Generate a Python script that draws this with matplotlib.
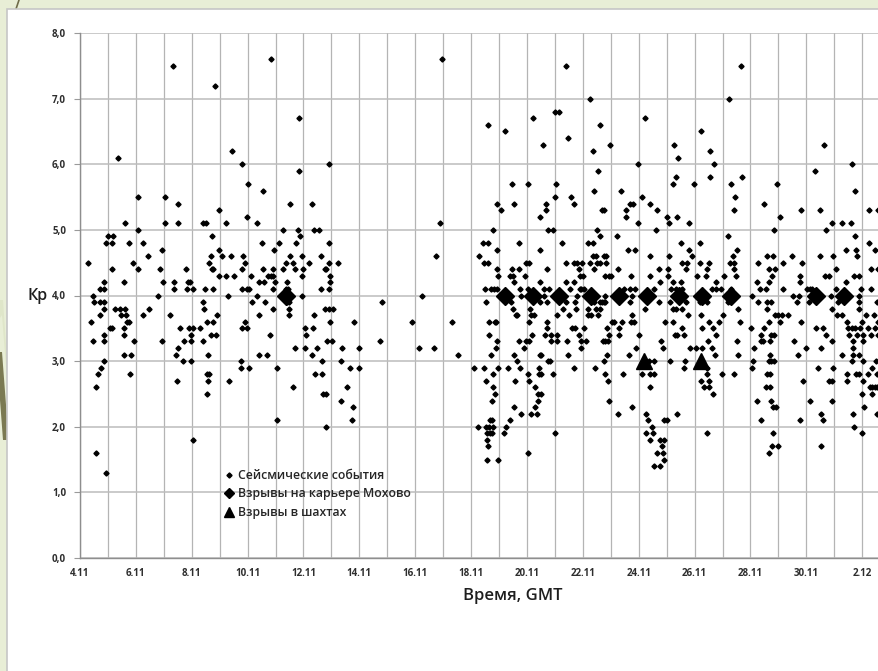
import matplotlib.pyplot as plt
from matplotlib.lines import Line2D
from matplotlib.patches import Rectangle, Polygon

plt.rcParams['font.family'] = ['Open Sans', 'DejaVu Sans']

# seismic events 4.11 - 17.11 (day of November, Kp)
west_day = [4.27, 4.41, 4.47, 4.48, 4.49, 4.56, 4.66, 4.70, 4.72, 4.72, 4.76, 4.87, 4.87, 4.87, 4.87, 4.87,
            4.87, 4.87, 4.93, 5.00, 5.07, 5.13, 5.13, 5.16, 5.19, 5.25, 5.43, 5.46, 5.61, 5.62, 5.58, 5.65,
            5.58, 5.59, 5.58, 5.67, 5.74, 5.77, 5.79, 5.81, 5.91, 5.93, 6.06, 6.06, 6.27, 6.27, 6.42, 6.46,
            6.79, 6.86, 6.94, 6.92, 6.98, 7.03, 7.22, 7.38, 7.38, 7.46, 7.44, 7.51, 7.51, 7.51, 7.59, 7.70,
            7.72, 7.81, 7.82, 7.85, 7.94, 7.91, 7.96, 7.96, 7.96, 8.03, 8.03, 8.03, 8.30, 8.39, 8.40, 8.45,
            8.42, 8.51, 8.49, 8.53, 8.53, 8.58, 8.59, 8.53, 8.61, 8.61, 8.70, 8.74, 8.74, 8.77, 8.69, 8.77,
            8.77, 8.87, 8.89, 8.99, 8.99, 8.99, 9.24, 9.08, 9.23, 9.31, 9.33, 9.39, 9.53, 9.75, 9.75, 9.79,
            9.79, 9.80, 9.82, 9.91, 9.92, 9.97, 9.99, 9.99, 10.06, 10.04, 10.13, 10.15, 10.35, 10.35, 10.40,
            10.42, 10.42, 10.50, 10.56, 10.58, 10.62, 10.68, 10.79, 10.74, 10.83, 10.90, 10.92, 10.92, 10.92,
            10.95, 10.98, 11.04, 11.04, 11.14, 11.26, 11.28, 11.37, 11.40, 11.45, 11.47, 11.47, 11.47, 11.52,
            11.52, 11.61, 11.61, 11.68, 11.70, 11.72, 11.82,
            5.36, 6.06, 7.05, 7.33, 8.83, 9.44, 9.80, 10.00, 10.54, 10.84, 11.83, 11.83,
            4.56, 4.94, 11.30, 11.44, 11.40, 11.36,
            16.95, 12.90, 12.31, 16.90, 12.37, 12.56, 11.89, 12.90, 11.96, 12.61, 16.76, 12.21, 12.93, 13.24,
            11.97, 12.76, 12.80, 11.96, 12.95, 12.95, 12.63, 12.93, 11.96, 16.26, 14.81, 12.78, 12.93, 13.07,
            12.36, 12.94, 13.82, 15.89, 17.31, 12.07, 12.33, 12.09, 12.83, 13.02, 14.75, 12.07, 12.50, 13.39,
            13.97, 16.14, 16.66, 12.31, 17.52, 12.67, 13.33, 12.40, 12.67, 13.68, 13.97, 13.55, 12.71, 12.80,
            13.36, 13.78, 13.73, 12.80]
west_kp = [4.5, 3.6, 3.3, 4.0, 3.9, 2.6, 2.8, 3.7, 4.1, 3.9, 2.9, 3.0, 3.3, 3.4, 3.8, 3.9,
           4.1, 4.2, 4.8, 4.9, 3.5, 3.5, 4.8, 4.4, 4.9, 3.8, 3.8, 3.7, 3.8, 5.1, 4.2, 3.7,
           3.4, 3.5, 3.1, 3.6, 4.8, 3.6, 2.8, 3.1, 4.5, 3.3, 5.0, 4.4, 4.8, 3.7, 4.6, 3.8,
           4.0, 4.4, 4.7, 3.3, 4.2, 5.1, 3.7, 4.2, 4.1, 2.7, 3.1, 5.4, 5.1, 3.2, 3.5, 3.0,
           3.3, 4.4, 4.1, 4.2, 4.2, 3.5, 3.4, 3.3, 3.0, 3.5, 4.1, 1.8, 3.5, 3.9, 3.3, 3.8,
           5.1, 5.1, 4.1, 3.6, 2.8, 2.7, 3.1, 2.5, 2.8, 4.5, 4.6, 4.9, 4.4, 4.4, 3.4, 3.6,
           4.1, 3.4, 3.7, 5.3, 4.7, 4.3, 5.1, 4.6, 4.3, 4.0, 2.7, 4.6, 4.3, 3.0, 2.9, 4.1,
           4.4, 3.5, 4.6, 4.5, 3.6, 4.1, 5.2, 3.5, 2.9, 4.1, 4.3, 3.9, 5.1, 4.0, 4.2,
           3.1, 3.7, 4.8, 4.4, 4.2, 3.9, 3.1, 3.4, 4.3, 4.3, 4.4, 4.1, 4.3, 3.8,
           4.7, 4.2, 2.9, 2.1, 4.8, 4.4, 5.0, 4.5, 4.2, 4.1, 3.9, 3.8, 3.7, 5.4,
           4.6, 4.5, 2.6, 4.4, 3.2, 4.8, 5.0,
           6.1, 5.5, 5.5, 7.5, 7.2, 6.2, 6.0, 5.7, 5.6, 7.6, 6.7, 5.9,
           1.6, 1.3, 4.0, 4.0, 3.9, 4.1,
           7.6, 6.0, 5.4, 5.1, 5.0, 5.0, 4.9, 4.8, 4.6, 4.6, 4.6, 4.5, 4.5, 4.5,
           4.4, 4.4, 4.4, 4.3, 4.3, 4.2, 4.1, 4.1, 4.0, 4.0, 3.9, 3.8, 3.8, 3.8,
           3.7, 3.6, 3.6, 3.6, 3.6, 3.5, 3.5, 3.4, 3.3, 3.3, 3.3, 3.2, 3.2, 3.2,
           3.2, 3.2, 3.2, 3.1, 3.1, 3.0, 3.0, 2.8, 2.8, 2.9, 2.9, 2.6, 2.5, 2.5,
           2.4, 2.3, 2.1, 2.0]

# seismic events 18.11 - 2.12, grouped by Kp level (days counted from 1 November)
east_levels = [7.5, 7.0, 6.8, 6.7, 6.6, 6.5, 6.4, 6.3, 6.2, 6.1, 6.0, 5.9, 5.8, 5.7, 5.6, 5.5, 5.4, 5.3,
               5.2, 5.1, 5.0, 4.9, 4.8, 4.7, 4.6, 4.5, 4.4, 4.3, 4.2, 4.1, 4.0, 3.9, 3.8, 3.7, 3.6,
               3.5, 3.4, 3.3, 3.2, 3.1, 3.0, 2.9, 2.8, 2.7, 2.6, 2.5, 2.4, 2.3, 2.2, 2.1, 2.0, 1.9,
               1.8, 1.7, 1.6, 1.5, 1.4]
east_days = [
    [21.39, 27.66],
    [22.27, 27.23],
    [21.01, 21.15],
    [20.20, 24.22],
    [18.61, 22.62],
    [19.23, 26.22],
    [21.47],
    [20.58, 22.99, 25.27, 30.62],
    [22.36, 26.56],
    [25.42],
    [23.99, 26.71, 31.65],
    [22.54, 30.30],
    [25.34, 26.55, 27.68],
    [19.47, 20.03, 21.03, 25.23, 25.99, 27.29, 28.96],
    [22.40, 23.38, 31.74],
    [21.01, 21.57, 24.12, 27.44],
    [18.91, 19.52, 20.69, 21.68, 23.69, 23.79, 24.41, 28.50],
    [19.08, 20.67, 22.68, 22.74, 23.54, 24.67, 27.42, 29.80, 30.48, 32.25, 32.56],
    [20.48, 23.54, 25.02, 25.38, 29.05],
    [23.98, 25.08, 25.81, 30.91, 31.28, 31.61],
    [18.79, 20.76, 20.93, 22.51, 24.61, 28.85, 30.70],
    [22.63, 23.24, 27.18, 31.76],
    [18.42, 18.61, 19.73, 21.25, 22.19, 22.36, 25.50, 26.18, 32.24],
    [18.93, 20.48, 23.63, 23.85, 25.81, 27.52, 31.41, 31.78, 32.46],
    [18.29, 22.36, 22.46, 22.75, 22.83, 24.42, 25.07, 25.91, 27.38, 28.59, 28.80, 29.48, 30.50,
     30.97, 31.80],
    [18.46, 18.60, 19.95, 20.07, 21.40, 21.69, 21.78, 21.96, 22.27, 22.50, 22.60, 22.82, 25.56,
     25.73, 26.18, 26.50, 27.27, 27.42, 28.28, 29.15, 29.86],
    [18.93, 19.45, 19.71, 20.71, 21.86, 22.39, 23.25, 24.73, 25.05, 25.71, 26.45, 27.41, 28.65,
     28.87, 31.07, 32.31, 32.56],
    [18.98, 19.39, 19.50, 19.92, 21.89, 21.99, 22.79, 22.92, 23.00, 23.74, 24.41, 25.04, 26.07,
     26.41, 27.06, 27.48, 28.77, 29.77, 30.67, 30.82, 31.72, 31.87],
    [19.52, 20.47, 21.41, 21.70, 24.77, 25.21, 25.52, 26.78, 28.25, 28.68, 29.78, 31.41],
    [18.50, 18.71, 18.83, 18.93, 19.74, 20.02, 20.62, 20.78, 21.55, 21.89, 21.92, 22.04, 23.47,
     23.69, 23.88, 24.53, 25.16, 25.34, 25.54, 26.61, 26.78, 26.94, 27.31, 28.34, 28.56, 29.17,
     30.03, 30.14, 30.22, 31.06, 31.96, 32.31],
    [19.05, 19.78, 20.60, 21.78, 22.81, 23.75, 28.05, 29.53, 29.72, 30.88, 31.90],
    [18.54, 19.43, 20.48, 20.72, 21.39, 21.71, 22.41, 22.61, 22.68, 22.75, 22.79, 23.69, 24.74,
     25.13, 25.71, 26.18, 26.43, 27.20, 28.28, 28.60, 28.74, 29.67, 30.11, 31.14, 31.90, 32.52],
    [19.50, 20.12, 21.29, 21.75, 22.20, 22.48, 22.60, 24.24, 25.22, 25.33, 25.54, 27.57, 28.58,
     30.93, 31.90],
    [19.59, 19.66, 20.14, 20.26, 21.07, 21.52, 22.19, 22.30, 22.54, 23.76, 25.78, 26.22, 27.03,
     28.89, 29.00, 29.12, 29.36, 31.09, 31.27, 32.14, 32.42],
    [18.64, 18.85, 18.90, 20.09, 20.72, 23.06, 23.12, 23.39, 23.74, 23.84, 24.94, 25.22, 26.53,
     26.89, 27.63, 28.66, 29.06, 29.81, 31.44, 32.01, 32.58],
    [20.72, 21.60, 21.73, 22.05, 22.88, 23.30, 25.54, 26.25, 26.65, 28.01, 28.49, 30.35, 30.59,
     31.50, 31.62, 31.74, 31.92, 32.22, 32.46],
    [18.64, 20.18, 20.66, 20.86, 21.07, 21.88, 22.92, 23.28, 24.01, 25.30, 25.38, 25.62, 26.75,
     28.37, 28.74, 28.84, 30.70, 31.54, 31.80, 32.02, 32.32, 32.58],
    [18.92, 19.73, 19.97, 20.06, 20.86, 21.07, 21.45, 21.93, 22.10, 22.72, 22.79, 22.90, 24.81,
     26.49, 27.53, 28.38, 28.45, 28.70, 29.57, 30.91, 31.66, 32.02],
    [18.90, 19.90, 21.93, 23.89, 24.88, 25.84, 26.05, 26.25, 26.61, 28.14, 29.99, 30.51, 31.68],
    [18.72, 19.53, 20.47, 20.52, 21.46, 22.87, 23.65, 26.74, 27.54, 28.70, 29.71, 31.27, 31.66,
     31.90],
    [19.66, 20.77, 20.81, 22.74, 24.36, 24.53, 25.12, 25.66, 28.10, 28.65, 28.72, 28.84, 31.62,
     32.04, 32.49],
    [18.11, 18.45, 18.95, 19.33, 19.76, 20.44, 21.70, 22.43, 25.62, 26.43, 28.06, 30.43, 30.97,
     32.34],
    [18.78, 20.04, 20.43, 20.49, 20.93, 22.81, 23.42, 24.11, 24.42, 24.53, 26.43, 26.99, 27.41,
     28.60, 28.70, 31.44, 31.78, 31.90, 32.21, 32.52],
    [18.55, 19.58, 20.08, 22.90, 26.23, 26.53, 29.87, 30.80, 30.92, 31.46, 32.04],
    [18.80, 20.28, 24.41, 26.35, 26.53, 28.56, 28.70, 32.28, 32.36, 32.45, 32.54],
    [18.84, 20.38, 20.52, 26.65, 31.99, 32.36],
    [18.76, 20.38, 22.93, 28.25, 28.74, 30.13, 30.91],
    [19.52, 20.28, 23.77, 28.80, 28.91, 32.08],
    [19.79, 20.15, 20.35, 23.27, 24.26, 25.36, 30.53, 31.68, 32.52],
    [18.66, 18.76, 19.40, 24.33, 24.90, 25.00, 28.38, 29.77, 30.59],
    [18.25, 18.54, 18.64, 18.77, 19.26, 24.48, 31.71],
    [18.56, 18.66, 18.76, 19.19, 21.01, 24.26, 24.52, 26.43, 28.82, 31.98],
    [18.56, 24.41, 24.75, 24.89],
    [18.59, 24.84, 28.76, 29.00, 30.51],
    [20.03, 24.66, 24.88, 28.68],
    [18.56, 18.98, 24.89],
    [24.54, 24.77],
]

# blasts at the Mokhovo quarry and in mines
mokhovo_day = [11.38, 19.23, 20.20, 21.13, 22.28, 23.28, 24.29, 25.43, 26.26, 27.30, 30.34, 31.35]
mokhovo_kp = [4.0, 4.0, 4.0, 4.0, 4.0, 4.0, 4.0, 4.0, 4.0, 4.0, 4.0, 4.0]
mine_day = [24.18, 26.22]
mine_kp = [3.0, 3.0]

tick_days = [4, 6, 8, 10, 12, 14, 16, 18, 20, 22, 24, 26, 28, 30, 32]
tick_labels = ['4.11', '6.11', '8.11', '10.11', '12.11', '14.11', '16.11', '18.11', '20.11',
               '22.11', '24.11', '26.11', '28.11', '30.11', '2.12']
kp_ticks = [0, 1, 2, 3, 4, 5, 6, 7, 8]
kp_labels = ['0,0', '1,0', '2,0', '3,0', '4,0', '5,0', '6,0', '7,0', '8,0']

east_x = []
east_y = []
for kp, days in zip(east_levels, east_days):
    east_x += days
    east_y += [kp] * len(days)

W, H = 879, 671


def px(x, y):
    # pixel position on the slide -> figure fraction
    return (x / W, 1 - y / H)


fig = plt.figure(figsize=(8.79, 6.71), dpi=100)
fig.patch.set_facecolor('#e8eed6')
# slide decoration on the left strip
fig.add_artist(Polygon([px(0, 300), px(3, 300), px(7, 360), px(7, 380), px(2, 315), px(0, 318)],
                       closed=True, transform=fig.transFigure, facecolor='#dfe6c9', lw=0, zorder=-6))
fig.add_artist(Polygon([px(0, 352), px(2, 352), px(7, 418), px(7, 440), px(3, 440), px(0, 400)],
                       closed=True, transform=fig.transFigure, facecolor='#7b7a52', lw=0, zorder=-6))
fig.add_artist(Line2D([19 / W, 16 / W], [1, 1 - 9 / H], transform=fig.transFigure,
                      color='#6f6c4a', lw=1.2, zorder=-6))
fig.add_artist(Rectangle((7 / W, -0.01), 1.0, 662 / H + 0.01, transform=fig.transFigure,
                         facecolor='white', edgecolor='#c6c6c6', lw=1.2, zorder=-5))

ax = fig.add_axes([80 / W, 113 / H, 866 / W, 525 / H])
ax.set_xlim(4, 35)
ax.set_ylim(0, 8)

ax.plot(west_day, west_kp, 'D', ms=2.6, color='black', ls='none', zorder=3)
ax.plot(east_x, east_y, 'D', ms=2.6, color='black', ls='none', zorder=3)
ax.plot(mokhovo_day, mokhovo_kp, 'D', ms=9.2, color='black', ls='none', zorder=4)
ax.plot(mine_day, mine_kp, '^', ms=12, color='black', ls='none', zorder=4)

ax.set_xticks(tick_days)
ax.set_xticklabels(tick_labels)
ax.set_xticks(range(4, 36), minor=True)
ax.set_yticks(kp_ticks)
ax.set_yticklabels(kp_labels)
ax.grid(which='both', axis='x', color='#b4b4b4', lw=0.9)
ax.grid(axis='y', color='#bcbcbc', lw=1.1)
ax.set_axisbelow(True)

for side in ['top', 'right']:
    ax.spines[side].set_visible(False)
for side in ['left', 'bottom']:
    ax.spines[side].set_color('#8e8e8e')
    ax.spines[side].set_linewidth(1.0)

ax.tick_params(axis='x', which='both', length=0, pad=7, labelsize=7, labelcolor='#2e2e2e')
ax.tick_params(axis='y', length=4, color='#9a9a9a', pad=6, labelsize=7, labelcolor='#2e2e2e')
for lab in ax.get_xticklabels() + ax.get_yticklabels():
    lab.set_fontweight('bold')

ax.set_xlabel('Время, GMT', fontsize=12, fontweight='semibold', color='#1e1e1e', labelpad=7)
fig.text(28 / W, 1 - 296 / H, 'Кр', fontsize=11.5, fontweight='semibold', color='#1e1e1e',
         ha='left', va='center')

handles = [
    Line2D([], [], marker='D', ms=2.6, ls='none', color='black'),
    Line2D([], [], marker='D', ms=5, ls='none', color='black'),
    Line2D([], [], marker='^', ms=7, ls='none', color='black'),
]
labels = ['Сейсмические события', 'Взрывы на карьере Мохово', 'Взрывы в шахтах']
ax.legend(handles, labels, loc='upper left', bbox_to_anchor=(224 / W, 1 - 469 / H),
          bbox_transform=fig.transFigure, frameon=False, borderpad=0, borderaxespad=0,
          handlelength=0.8, handletextpad=0.35, labelspacing=0.45,
          prop={'size': 8.8, 'weight': 'semibold'}, labelcolor='#262626')

fig.savefig('out.png', dpi=100)
